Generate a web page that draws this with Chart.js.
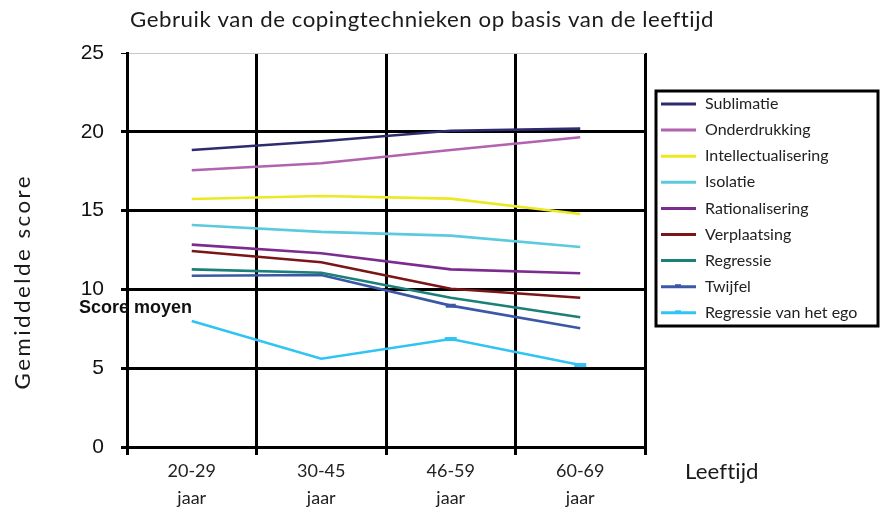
<!DOCTYPE html>
<html>
<head>
<meta charset="utf-8">
<script src="https://cdn.jsdelivr.net/npm/chart.js@4.4.1/dist/chart.umd.min.js"></script>
<style>
  html, body { margin: 0; padding: 0; background: #ffffff; }
  #wrap { width: 880px; height: 511px; position: relative; }
</style>
</head>
<body>
<div id="wrap"><canvas id="copingChart"></canvas></div>
<script>
// age groups and tick values
const ageGroups = [['20-29', 'jaar'], ['30-45', 'jaar'], ['46-59', 'jaar'], ['60-69', 'jaar']];
const scoreTicks = [0, 5, 10, 15, 20, 25];

// mean score per technique, per age group
const sublimatie = [18.85, 19.4, 20.07, 20.2];
const onderdrukking = [17.56, 18.0, 18.85, 19.65];
const intellectualisering = [15.74, 15.93, 15.76, 14.78];
const isolatie = [14.09, 13.65, 13.41, 12.69];
const rationalisering = [12.84, 12.29, 11.27, 11.02];
const verplaatsing = [12.44, 11.72, 10.04, 9.47];
const regressie = [11.27, 11.06, 9.47, 8.23];
const twijfel = [10.87, 10.91, 8.97, 7.53];
const regressieEgo = [7.99, 5.6, 6.85, 5.2];

const seriesNames = ['Sublimatie', 'Onderdrukking', 'Intellectualisering', 'Isolatie', 'Rationalisering',
  'Verplaatsing', 'Regressie', 'Twijfel', 'Regressie van het ego'];
const seriesValues = [sublimatie, onderdrukking, intellectualisering, isolatie, rationalisering,
  verplaatsing, regressie, twijfel, regressieEgo];
const seriesColors = ['#2f2b6f', '#b262ae', '#ece823', '#5ccadd', '#7c2b8f',
  '#7a1518', '#1b8178', '#3b57a8', '#30c4f2'];
const seriesMarkers = [null, null, null, null, null, null, null, [0, 0, 5, 0], [0, 0, 6, 6]];

const labelFont = '"Lato", "Open Sans", sans-serif';

// draw text centred on (x, y), stretched to the given width
function spreadText(c, text, x, y, width) {
  c.letterSpacing = '0px';
  const w = c.measureText(text).width;
  const stretch = Math.min(width / w, 1.06);
  const gap = (width - w * stretch) / (text.length - 1) / stretch;
  c.save();
  c.translate(x - width / 2, y);
  c.scale(stretch, 1);
  c.letterSpacing = gap + 'px';
  c.textAlign = 'left';
  c.fillText(text, 0, 0);
  c.restore();
}

// title, axis captions, note and boxed legend
const decorations = {
  id: 'decorations',
  afterDraw(chart) {
    const c = chart.ctx;
    c.save();
    c.fillStyle = '#1a1a1a';
    c.textBaseline = 'middle';

    c.font = '21px ' + labelFont;
    spreadText(c, 'Gebruik van de copingtechnieken op basis van de leeftijd', 421.5, 20, 583);
    spreadText(c, 'Leeftijd', 721.5, 472, 73);

    c.save();
    c.translate(23, 283);
    c.rotate(-Math.PI / 2);
    spreadText(c, 'Gemiddelde score', 0, 0, 213);
    c.restore();

    c.font = 'bold 18px "Liberation Sans", Arial, sans-serif';
    c.textAlign = 'left';
    c.fillStyle = '#111111';
    c.fillText('Score moyen', 79, 308);

    // legend box
    c.lineWidth = 3;
    c.strokeStyle = '#000000';
    c.strokeRect(656, 91, 222, 235);
    c.font = '16px ' + labelFont;
    chart.data.datasets.forEach((ds, i) => {
      const y = 104 + i * 26.1;
      c.strokeStyle = ds.borderColor;
      c.lineWidth = 3;
      c.beginPath();
      c.moveTo(661, y);
      c.lineTo(696, y);
      c.stroke();
      if (seriesMarkers[i]) {
        c.fillStyle = ds.borderColor;
        c.fillRect(675, y - 2.5, 6, 3);
      }
      c.fillStyle = '#222222';
      c.fillText(ds.label, 705, y);
    });
    c.restore();
  }
};

new Chart(document.getElementById('copingChart'), {
  type: 'line',
  data: {
    labels: ageGroups,
    datasets: seriesNames.map((name, i) => ({
      label: name,
      data: seriesValues[i],
      borderColor: seriesColors[i],
      backgroundColor: seriesColors[i],
      borderWidth: 2.6,
      tension: 0,
      pointStyle: 'line',
      pointRadius: seriesMarkers[i] || 0,
      pointBorderWidth: 4,
      pointHoverRadius: 0
    }))
  },
  options: {
    responsive: true,
    maintainAspectRatio: false,
    animation: false,
    layout: { padding: { top: 53, right: 235, bottom: 0, left: 0 } },
    plugins: {
      legend: { display: false },
      title: { display: false },
      tooltip: { enabled: false }
    },
    scales: {
      x: {
        offset: true,
        grid: {
          offset: true,
          color: ctx => ctx.index === 4 ? '#c8c8c8' : '#000000',
          lineWidth: ctx => ctx.index === 4 ? 1 : 3,
          tickLength: 8,
          tickColor: ctx => ctx.index === 4 ? 'rgba(0,0,0,0)' : '#000000'
        },
        border: { display: false },
        ticks: {
          color: '#222222',
          font: { family: labelFont, size: 18, lineHeight: 1.5 },
          padding: 3,
          maxRotation: 0
        },
        afterFit: scale => { scale.height = 64; }
      },
      y: {
        min: 0,
        max: 25,
        afterBuildTicks: scale => { scale.ticks = scoreTicks.map(v => ({ value: v })); },
        grid: {
          color: ctx => ctx.tick && ctx.tick.value === 25 ? '#c8c8c8' : '#000000',
          lineWidth: ctx => ctx.tick && ctx.tick.value === 25 ? 1 : 3,
          tickLength: 6,
          tickColor: '#000000'
        },
        border: { display: true, color: '#000000', width: 3 },
        ticks: {
          color: '#111111',
          font: { family: '"Liberation Sans", Arial, sans-serif', size: 21 },
          padding: 17
        },
        afterFit: scale => { scale.width = 127; }
      }
    }
  },
  plugins: [decorations]
});
</script>
</body>
</html>
